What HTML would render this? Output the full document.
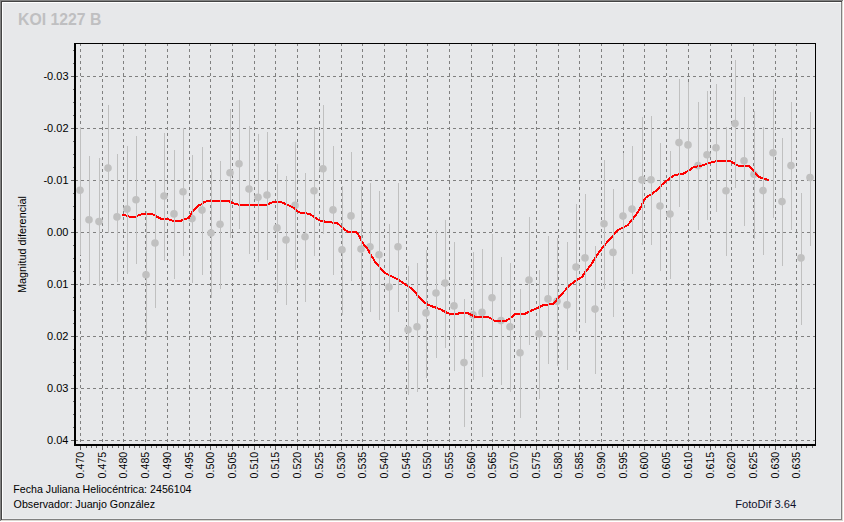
<!DOCTYPE html>
<html><head><meta charset="utf-8"><title>KOI 1227 B</title>
<style>
html,body{margin:0;padding:0;background:#fff;}
body{width:844px;height:522px;overflow:hidden;position:relative;font-family:"Liberation Sans",sans-serif;}
svg{position:absolute;left:0;top:0;display:block;}
text{font-family:"Liberation Sans",sans-serif;}
</style></head><body>
<svg width="844" height="522" viewBox="0 0 844 522">

<g shape-rendering="crispEdges">
<rect x="0" y="0" width="844" height="522" fill="#ffffff"/>
<rect x="0" y="0" width="843" height="521" fill="#dedad2"/>
<rect x="0" y="0" width="843" height="521" fill="#838383"/>
<rect x="842" y="1" width="1" height="520" fill="#dcd9d2"/>
<rect x="1" y="520" width="842" height="1" fill="#d9d6cf"/>
<rect x="1" y="1" width="841" height="519" fill="#444444"/>
<rect x="2" y="2" width="840" height="518" fill="#808080"/>
<rect x="2" y="2" width="839" height="517" fill="#ffffff"/>
<rect x="3" y="3" width="838" height="516" fill="#ecedef"/>
<rect x="3" y="3" width="837" height="515" fill="#e7e8ea"/>
</g>
<g shape-rendering="crispEdges" stroke="#808080" stroke-width="1" fill="none">
<line x1="80.5" y1="43" x2="80.5" y2="444" stroke-dasharray="3 3"/>
<line x1="102.5" y1="43" x2="102.5" y2="444" stroke-dasharray="3 3"/>
<line x1="123.5" y1="43" x2="123.5" y2="444" stroke-dasharray="3 3"/>
<line x1="145.5" y1="43" x2="145.5" y2="444" stroke-dasharray="3 3"/>
<line x1="167.5" y1="43" x2="167.5" y2="444" stroke-dasharray="3 3"/>
<line x1="189.5" y1="43" x2="189.5" y2="444" stroke-dasharray="3 3"/>
<line x1="210.5" y1="43" x2="210.5" y2="444" stroke-dasharray="3 3"/>
<line x1="232.5" y1="43" x2="232.5" y2="444" stroke-dasharray="3 3"/>
<line x1="254.5" y1="43" x2="254.5" y2="444" stroke-dasharray="3 3"/>
<line x1="275.5" y1="43" x2="275.5" y2="444" stroke-dasharray="3 3"/>
<line x1="297.5" y1="43" x2="297.5" y2="444" stroke-dasharray="3 3"/>
<line x1="319.5" y1="43" x2="319.5" y2="444" stroke-dasharray="3 3"/>
<line x1="341.5" y1="43" x2="341.5" y2="444" stroke-dasharray="3 3"/>
<line x1="362.5" y1="43" x2="362.5" y2="444" stroke-dasharray="3 3"/>
<line x1="384.5" y1="43" x2="384.5" y2="444" stroke-dasharray="3 3"/>
<line x1="406.5" y1="43" x2="406.5" y2="444" stroke-dasharray="3 3"/>
<line x1="427.5" y1="43" x2="427.5" y2="444" stroke-dasharray="3 3"/>
<line x1="449.5" y1="43" x2="449.5" y2="444" stroke-dasharray="3 3"/>
<line x1="471.5" y1="43" x2="471.5" y2="444" stroke-dasharray="3 3"/>
<line x1="492.5" y1="43" x2="492.5" y2="444" stroke-dasharray="3 3"/>
<line x1="514.5" y1="43" x2="514.5" y2="444" stroke-dasharray="3 3"/>
<line x1="536.5" y1="43" x2="536.5" y2="444" stroke-dasharray="3 3"/>
<line x1="558.5" y1="43" x2="558.5" y2="444" stroke-dasharray="3 3"/>
<line x1="579.5" y1="43" x2="579.5" y2="444" stroke-dasharray="3 3"/>
<line x1="601.5" y1="43" x2="601.5" y2="444" stroke-dasharray="3 3"/>
<line x1="623.5" y1="43" x2="623.5" y2="444" stroke-dasharray="3 3"/>
<line x1="644.5" y1="43" x2="644.5" y2="444" stroke-dasharray="3 3"/>
<line x1="666.5" y1="43" x2="666.5" y2="444" stroke-dasharray="3 3"/>
<line x1="688.5" y1="43" x2="688.5" y2="444" stroke-dasharray="3 3"/>
<line x1="710.5" y1="43" x2="710.5" y2="444" stroke-dasharray="3 3"/>
<line x1="731.5" y1="43" x2="731.5" y2="444" stroke-dasharray="3 3"/>
<line x1="753.5" y1="43" x2="753.5" y2="444" stroke-dasharray="3 3"/>
<line x1="775.5" y1="43" x2="775.5" y2="444" stroke-dasharray="3 3"/>
<line x1="796.5" y1="43" x2="796.5" y2="444" stroke-dasharray="3 3"/>
<line x1="75" y1="76.5" x2="815" y2="76.5" stroke-dasharray="3 3"/>
<line x1="75" y1="128.5" x2="815" y2="128.5" stroke-dasharray="3 3"/>
<line x1="75" y1="180.5" x2="815" y2="180.5" stroke-dasharray="3 3"/>
<line x1="75" y1="232.5" x2="815" y2="232.5" stroke-dasharray="3 3"/>
<line x1="75" y1="284.5" x2="815" y2="284.5" stroke-dasharray="3 3"/>
<line x1="75" y1="336.5" x2="815" y2="336.5" stroke-dasharray="3 3"/>
<line x1="75" y1="388.5" x2="815" y2="388.5" stroke-dasharray="3 3"/>
<line x1="75" y1="440.5" x2="815" y2="440.5" stroke-dasharray="3 3"/>
</g>
<g fill="#c0c0c0">
<circle cx="80.0" cy="190.2" r="3.8"/>
<circle cx="89.0" cy="219.8" r="3.8"/>
<circle cx="99.0" cy="221.6" r="3.8"/>
<circle cx="108.0" cy="168.1" r="3.8"/>
<circle cx="117.0" cy="216.9" r="3.8"/>
<circle cx="127.0" cy="209.1" r="3.8"/>
<circle cx="136.0" cy="199.7" r="3.8"/>
<circle cx="146.0" cy="274.8" r="3.8"/>
<circle cx="155.0" cy="243.0" r="3.8"/>
<circle cx="164.0" cy="196.0" r="3.8"/>
<circle cx="174.0" cy="213.9" r="3.8"/>
<circle cx="183.0" cy="191.7" r="3.8"/>
<circle cx="192.0" cy="218.6" r="3.8"/>
<circle cx="202.0" cy="210.1" r="3.8"/>
<circle cx="211.0" cy="233.0" r="3.8"/>
<circle cx="220.0" cy="224.3" r="3.8"/>
<circle cx="230.0" cy="172.8" r="3.8"/>
<circle cx="239.0" cy="163.8" r="3.8"/>
<circle cx="249.0" cy="189.0" r="3.8"/>
<circle cx="258.0" cy="197.2" r="3.8"/>
<circle cx="267.0" cy="195.0" r="3.8"/>
<circle cx="277.0" cy="227.9" r="3.8"/>
<circle cx="286.0" cy="239.9" r="3.8"/>
<circle cx="295.0" cy="205.4" r="3.8"/>
<circle cx="305.0" cy="236.8" r="3.8"/>
<circle cx="314.0" cy="190.7" r="3.8"/>
<circle cx="323.0" cy="168.8" r="3.8"/>
<circle cx="333.0" cy="209.9" r="3.8"/>
<circle cx="342.0" cy="249.8" r="3.8"/>
<circle cx="351.0" cy="215.9" r="3.8"/>
<circle cx="361.0" cy="249.0" r="3.8"/>
<circle cx="370.0" cy="246.8" r="3.8"/>
<circle cx="379.0" cy="254.7" r="3.8"/>
<circle cx="389.0" cy="287.0" r="3.8"/>
<circle cx="398.0" cy="246.8" r="3.8"/>
<circle cx="408.0" cy="329.8" r="3.8"/>
<circle cx="417.0" cy="326.8" r="3.8"/>
<circle cx="426.0" cy="312.9" r="3.8"/>
<circle cx="436.0" cy="293.0" r="3.8"/>
<circle cx="445.0" cy="283.1" r="3.8"/>
<circle cx="454.0" cy="305.9" r="3.8"/>
<circle cx="464.0" cy="362.6" r="3.8"/>
<circle cx="473.0" cy="314.9" r="3.8"/>
<circle cx="482.0" cy="312.4" r="3.8"/>
<circle cx="492.0" cy="297.7" r="3.8"/>
<circle cx="501.0" cy="320.6" r="3.8"/>
<circle cx="510.0" cy="326.8" r="3.8"/>
<circle cx="520.0" cy="352.7" r="3.8"/>
<circle cx="529.0" cy="280.0" r="3.8"/>
<circle cx="539.0" cy="333.8" r="3.8"/>
<circle cx="548.0" cy="298.9" r="3.8"/>
<circle cx="557.0" cy="301.2" r="3.8"/>
<circle cx="567.0" cy="304.9" r="3.8"/>
<circle cx="576.0" cy="267.0" r="3.8"/>
<circle cx="585.0" cy="257.9" r="3.8"/>
<circle cx="595.0" cy="309.1" r="3.8"/>
<circle cx="604.0" cy="223.8" r="3.8"/>
<circle cx="613.0" cy="252.4" r="3.8"/>
<circle cx="623.0" cy="216.1" r="3.8"/>
<circle cx="632.0" cy="209.1" r="3.8"/>
<circle cx="642.0" cy="179.9" r="3.8"/>
<circle cx="651.0" cy="179.8" r="3.8"/>
<circle cx="660.0" cy="206.0" r="3.8"/>
<circle cx="670.0" cy="214.0" r="3.8"/>
<circle cx="679.0" cy="142.6" r="3.8"/>
<circle cx="688.0" cy="144.9" r="3.8"/>
<circle cx="698.0" cy="165.6" r="3.8"/>
<circle cx="707.0" cy="154.7" r="3.8"/>
<circle cx="716.0" cy="147.7" r="3.8"/>
<circle cx="726.0" cy="190.8" r="3.8"/>
<circle cx="735.0" cy="123.6" r="3.8"/>
<circle cx="744.0" cy="160.7" r="3.8"/>
<circle cx="754.0" cy="174.3" r="3.8"/>
<circle cx="763.0" cy="190.6" r="3.8"/>
<circle cx="773.0" cy="152.8" r="3.8"/>
<circle cx="782.0" cy="201.6" r="3.8"/>
<circle cx="791.0" cy="165.6" r="3.8"/>
<circle cx="801.0" cy="257.9" r="3.8"/>
<circle cx="810.0" cy="177.5" r="3.8"/>
</g>
<polyline points="122.1,214.9 126.1,215.5 129.8,216.8 135.4,216.8 138.5,215.3 142.9,214.0 152.2,214.0 155.9,216.1 160.9,218.6 167.2,218.9 173.4,220.9 180.0,221.1 185.0,219.2 188.7,218.0 190.6,214.9 192.5,211.7 195.0,208.6 198.7,205.5 201.8,204.3 204.3,202.1 208.0,200.9 228.0,200.9 231.0,202.2 234.8,203.9 239.8,204.9 266.0,204.9 269.7,203.4 273.4,201.8 280.0,201.8 285.0,203.7 290.0,205.9 294.9,208.7 298.7,212.2 302.4,213.0 309.3,213.7 313.0,216.2 317.4,219.3 319.9,220.5 327.3,222.1 337.3,223.0 341.0,226.4 344.8,229.6 347.9,231.7 356.0,231.7 359.7,236.7 362.2,242.3 367.2,248.5 370.9,254.8 374.7,261.2 380.0,267.5 385.0,273.1 391.2,276.2 397.5,279.3 403.7,283.4 409.9,287.4 414.9,291.8 418.6,296.8 423.6,301.7 428.6,305.1 434.8,307.3 441.0,309.6 446.0,312.3 449.8,313.8 457.2,313.8 461.0,312.9 467.2,312.9 470.9,314.8 474.7,316.7 487.0,317.0 490.0,317.9 493.7,320.4 497.5,321.0 505.6,321.0 509.9,318.5 514.9,314.2 524.9,313.8 529.9,311.3 537.3,308.0 543.5,305.1 553.5,303.9 557.2,299.2 562.2,293.6 567.2,288.0 571.0,284.3 575.9,280.6 582.2,276.8 585.9,271.2 590.9,265.0 596.0,256.5 602.0,248.3 608.0,241.2 614.3,234.1 618.6,229.8 627.4,225.4 632.3,219.8 637.3,213.0 641.1,206.7 643.5,201.1 646.0,197.4 652.3,193.7 658.5,188.7 662.2,184.3 668.5,179.3 673.4,175.6 677.2,174.7 683.4,173.7 688.4,170.6 690.0,169.9 693.7,167.1 700.0,166.1 706.2,164.2 712.4,162.1 717.4,160.9 729.9,160.9 733.6,163.0 738.6,165.9 748.5,165.9 752.3,169.2 756.0,173.8 759.7,177.3 764.7,178.8 769.0,180.1" fill="none" stroke="#fd0000" stroke-width="2" stroke-linejoin="bevel" stroke-linecap="butt" shape-rendering="crispEdges"/>
<g shape-rendering="crispEdges" stroke="#c0c0c0" stroke-width="1">
<line x1="80.5" y1="127" x2="80.5" y2="255"/>
<line x1="89.5" y1="156" x2="89.5" y2="285"/>
<line x1="99.5" y1="158" x2="99.5" y2="286"/>
<line x1="108.5" y1="105" x2="108.5" y2="233"/>
<line x1="117.5" y1="154" x2="117.5" y2="282"/>
<line x1="127.5" y1="146" x2="127.5" y2="274"/>
<line x1="136.5" y1="136" x2="136.5" y2="264"/>
<line x1="146.5" y1="211" x2="146.5" y2="340"/>
<line x1="155.5" y1="180" x2="155.5" y2="308"/>
<line x1="164.5" y1="133" x2="164.5" y2="261"/>
<line x1="174.5" y1="150" x2="174.5" y2="279"/>
<line x1="183.5" y1="128" x2="183.5" y2="256"/>
<line x1="192.5" y1="155" x2="192.5" y2="283"/>
<line x1="202.5" y1="147" x2="202.5" y2="275"/>
<line x1="211.5" y1="170" x2="211.5" y2="298"/>
<line x1="220.5" y1="161" x2="220.5" y2="289"/>
<line x1="230.5" y1="109" x2="230.5" y2="238"/>
<line x1="239.5" y1="100" x2="239.5" y2="229"/>
<line x1="249.5" y1="126" x2="249.5" y2="254"/>
<line x1="258.5" y1="134" x2="258.5" y2="262"/>
<line x1="267.5" y1="132" x2="267.5" y2="260"/>
<line x1="277.5" y1="164" x2="277.5" y2="293"/>
<line x1="286.5" y1="176" x2="286.5" y2="305"/>
<line x1="295.5" y1="142" x2="295.5" y2="270"/>
<line x1="305.5" y1="173" x2="305.5" y2="302"/>
<line x1="314.5" y1="127" x2="314.5" y2="256"/>
<line x1="323.5" y1="105" x2="323.5" y2="234"/>
<line x1="333.5" y1="146" x2="333.5" y2="275"/>
<line x1="342.5" y1="186" x2="342.5" y2="315"/>
<line x1="351.5" y1="152" x2="351.5" y2="281"/>
<line x1="361.5" y1="186" x2="361.5" y2="314"/>
<line x1="370.5" y1="183" x2="370.5" y2="312"/>
<line x1="379.5" y1="191" x2="379.5" y2="320"/>
<line x1="389.5" y1="224" x2="389.5" y2="352"/>
<line x1="398.5" y1="183" x2="398.5" y2="312"/>
<line x1="408.5" y1="266" x2="408.5" y2="395"/>
<line x1="417.5" y1="263" x2="417.5" y2="392"/>
<line x1="426.5" y1="250" x2="426.5" y2="378"/>
<line x1="436.5" y1="230" x2="436.5" y2="358"/>
<line x1="445.5" y1="220" x2="445.5" y2="348"/>
<line x1="454.5" y1="242" x2="454.5" y2="371"/>
<line x1="464.5" y1="299" x2="464.5" y2="427"/>
<line x1="473.5" y1="252" x2="473.5" y2="380"/>
<line x1="482.5" y1="249" x2="482.5" y2="377"/>
<line x1="492.5" y1="234" x2="492.5" y2="362"/>
<line x1="501.5" y1="257" x2="501.5" y2="385"/>
<line x1="510.5" y1="263" x2="510.5" y2="392"/>
<line x1="520.5" y1="289" x2="520.5" y2="418"/>
<line x1="529.5" y1="217" x2="529.5" y2="345"/>
<line x1="539.5" y1="270" x2="539.5" y2="399"/>
<line x1="548.5" y1="236" x2="548.5" y2="364"/>
<line x1="557.5" y1="238" x2="557.5" y2="366"/>
<line x1="567.5" y1="242" x2="567.5" y2="370"/>
<line x1="576.5" y1="204" x2="576.5" y2="332"/>
<line x1="585.5" y1="194" x2="585.5" y2="323"/>
<line x1="595.5" y1="246" x2="595.5" y2="374"/>
<line x1="604.5" y1="160" x2="604.5" y2="289"/>
<line x1="613.5" y1="189" x2="613.5" y2="317"/>
<line x1="623.5" y1="153" x2="623.5" y2="281"/>
<line x1="632.5" y1="146" x2="632.5" y2="274"/>
<line x1="642.5" y1="117" x2="642.5" y2="245"/>
<line x1="651.5" y1="116" x2="651.5" y2="245"/>
<line x1="660.5" y1="143" x2="660.5" y2="271"/>
<line x1="670.5" y1="151" x2="670.5" y2="279"/>
<line x1="679.5" y1="79" x2="679.5" y2="207"/>
<line x1="688.5" y1="82" x2="688.5" y2="210"/>
<line x1="698.5" y1="102" x2="698.5" y2="230"/>
<line x1="707.5" y1="91" x2="707.5" y2="220"/>
<line x1="716.5" y1="84" x2="716.5" y2="212"/>
<line x1="726.5" y1="127" x2="726.5" y2="256"/>
<line x1="735.5" y1="60" x2="735.5" y2="188"/>
<line x1="744.5" y1="97" x2="744.5" y2="226"/>
<line x1="754.5" y1="111" x2="754.5" y2="239"/>
<line x1="763.5" y1="127" x2="763.5" y2="255"/>
<line x1="773.5" y1="89" x2="773.5" y2="218"/>
<line x1="782.5" y1="138" x2="782.5" y2="266"/>
<line x1="791.5" y1="102" x2="791.5" y2="230"/>
<line x1="801.5" y1="193" x2="801.5" y2="325"/>
<line x1="810.5" y1="112" x2="810.5" y2="246"/>
</g>
<g shape-rendering="crispEdges">
<rect x="74" y="43" width="742" height="1" fill="#000"/>
<rect x="815" y="43" width="1" height="403" fill="#000"/>
<rect x="74" y="43" width="2" height="403" fill="#000"/>
<rect x="74" y="444" width="742" height="2" fill="#000"/>
<rect x="71" y="76" width="3" height="1" fill="#606060"/>
<rect x="71" y="128" width="3" height="1" fill="#606060"/>
<rect x="71" y="180" width="3" height="1" fill="#606060"/>
<rect x="71" y="232" width="3" height="1" fill="#606060"/>
<rect x="71" y="284" width="3" height="1" fill="#606060"/>
<rect x="71" y="336" width="3" height="1" fill="#606060"/>
<rect x="71" y="388" width="3" height="1" fill="#606060"/>
<rect x="71" y="440" width="3" height="1" fill="#606060"/>
<rect x="73" y="50" width="1" height="1" fill="#707070"/>
<rect x="73" y="63" width="1" height="1" fill="#707070"/>
<rect x="73" y="89" width="1" height="1" fill="#707070"/>
<rect x="73" y="102" width="1" height="1" fill="#707070"/>
<rect x="73" y="115" width="1" height="1" fill="#707070"/>
<rect x="73" y="141" width="1" height="1" fill="#707070"/>
<rect x="73" y="154" width="1" height="1" fill="#707070"/>
<rect x="73" y="167" width="1" height="1" fill="#707070"/>
<rect x="73" y="193" width="1" height="1" fill="#707070"/>
<rect x="73" y="206" width="1" height="1" fill="#707070"/>
<rect x="73" y="219" width="1" height="1" fill="#707070"/>
<rect x="73" y="245" width="1" height="1" fill="#707070"/>
<rect x="73" y="258" width="1" height="1" fill="#707070"/>
<rect x="73" y="271" width="1" height="1" fill="#707070"/>
<rect x="73" y="297" width="1" height="1" fill="#707070"/>
<rect x="73" y="310" width="1" height="1" fill="#707070"/>
<rect x="73" y="323" width="1" height="1" fill="#707070"/>
<rect x="73" y="349" width="1" height="1" fill="#707070"/>
<rect x="73" y="362" width="1" height="1" fill="#707070"/>
<rect x="73" y="375" width="1" height="1" fill="#707070"/>
<rect x="73" y="401" width="1" height="1" fill="#707070"/>
<rect x="73" y="414" width="1" height="1" fill="#707070"/>
<rect x="73" y="427" width="1" height="1" fill="#707070"/>
<rect x="80" y="446" width="1" height="4" fill="#606060"/>
<rect x="86" y="446" width="1" height="2" fill="#707070"/>
<rect x="91" y="446" width="1" height="2" fill="#707070"/>
<rect x="96" y="446" width="1" height="2" fill="#707070"/>
<rect x="102" y="446" width="1" height="4" fill="#606060"/>
<rect x="107" y="446" width="1" height="2" fill="#707070"/>
<rect x="112" y="446" width="1" height="2" fill="#707070"/>
<rect x="118" y="446" width="1" height="2" fill="#707070"/>
<rect x="123" y="446" width="1" height="4" fill="#606060"/>
<rect x="129" y="446" width="1" height="2" fill="#707070"/>
<rect x="134" y="446" width="1" height="2" fill="#707070"/>
<rect x="139" y="446" width="1" height="2" fill="#707070"/>
<rect x="145" y="446" width="1" height="4" fill="#606060"/>
<rect x="151" y="446" width="1" height="2" fill="#707070"/>
<rect x="156" y="446" width="1" height="2" fill="#707070"/>
<rect x="161" y="446" width="1" height="2" fill="#707070"/>
<rect x="167" y="446" width="1" height="4" fill="#606060"/>
<rect x="173" y="446" width="1" height="2" fill="#707070"/>
<rect x="178" y="446" width="1" height="2" fill="#707070"/>
<rect x="183" y="446" width="1" height="2" fill="#707070"/>
<rect x="189" y="446" width="1" height="4" fill="#606060"/>
<rect x="194" y="446" width="1" height="2" fill="#707070"/>
<rect x="199" y="446" width="1" height="2" fill="#707070"/>
<rect x="205" y="446" width="1" height="2" fill="#707070"/>
<rect x="210" y="446" width="1" height="4" fill="#606060"/>
<rect x="216" y="446" width="1" height="2" fill="#707070"/>
<rect x="221" y="446" width="1" height="2" fill="#707070"/>
<rect x="226" y="446" width="1" height="2" fill="#707070"/>
<rect x="232" y="446" width="1" height="4" fill="#606060"/>
<rect x="238" y="446" width="1" height="2" fill="#707070"/>
<rect x="243" y="446" width="1" height="2" fill="#707070"/>
<rect x="248" y="446" width="1" height="2" fill="#707070"/>
<rect x="254" y="446" width="1" height="4" fill="#606060"/>
<rect x="259" y="446" width="1" height="2" fill="#707070"/>
<rect x="264" y="446" width="1" height="2" fill="#707070"/>
<rect x="270" y="446" width="1" height="2" fill="#707070"/>
<rect x="275" y="446" width="1" height="4" fill="#606060"/>
<rect x="281" y="446" width="1" height="2" fill="#707070"/>
<rect x="286" y="446" width="1" height="2" fill="#707070"/>
<rect x="291" y="446" width="1" height="2" fill="#707070"/>
<rect x="297" y="446" width="1" height="4" fill="#606060"/>
<rect x="303" y="446" width="1" height="2" fill="#707070"/>
<rect x="308" y="446" width="1" height="2" fill="#707070"/>
<rect x="313" y="446" width="1" height="2" fill="#707070"/>
<rect x="319" y="446" width="1" height="4" fill="#606060"/>
<rect x="325" y="446" width="1" height="2" fill="#707070"/>
<rect x="330" y="446" width="1" height="2" fill="#707070"/>
<rect x="335" y="446" width="1" height="2" fill="#707070"/>
<rect x="341" y="446" width="1" height="4" fill="#606060"/>
<rect x="346" y="446" width="1" height="2" fill="#707070"/>
<rect x="351" y="446" width="1" height="2" fill="#707070"/>
<rect x="357" y="446" width="1" height="2" fill="#707070"/>
<rect x="362" y="446" width="1" height="4" fill="#606060"/>
<rect x="368" y="446" width="1" height="2" fill="#707070"/>
<rect x="373" y="446" width="1" height="2" fill="#707070"/>
<rect x="378" y="446" width="1" height="2" fill="#707070"/>
<rect x="384" y="446" width="1" height="4" fill="#606060"/>
<rect x="390" y="446" width="1" height="2" fill="#707070"/>
<rect x="395" y="446" width="1" height="2" fill="#707070"/>
<rect x="400" y="446" width="1" height="2" fill="#707070"/>
<rect x="406" y="446" width="1" height="4" fill="#606060"/>
<rect x="411" y="446" width="1" height="2" fill="#707070"/>
<rect x="416" y="446" width="1" height="2" fill="#707070"/>
<rect x="422" y="446" width="1" height="2" fill="#707070"/>
<rect x="427" y="446" width="1" height="4" fill="#606060"/>
<rect x="433" y="446" width="1" height="2" fill="#707070"/>
<rect x="438" y="446" width="1" height="2" fill="#707070"/>
<rect x="443" y="446" width="1" height="2" fill="#707070"/>
<rect x="449" y="446" width="1" height="4" fill="#606060"/>
<rect x="455" y="446" width="1" height="2" fill="#707070"/>
<rect x="460" y="446" width="1" height="2" fill="#707070"/>
<rect x="465" y="446" width="1" height="2" fill="#707070"/>
<rect x="471" y="446" width="1" height="4" fill="#606060"/>
<rect x="476" y="446" width="1" height="2" fill="#707070"/>
<rect x="481" y="446" width="1" height="2" fill="#707070"/>
<rect x="487" y="446" width="1" height="2" fill="#707070"/>
<rect x="492" y="446" width="1" height="4" fill="#606060"/>
<rect x="498" y="446" width="1" height="2" fill="#707070"/>
<rect x="503" y="446" width="1" height="2" fill="#707070"/>
<rect x="508" y="446" width="1" height="2" fill="#707070"/>
<rect x="514" y="446" width="1" height="4" fill="#606060"/>
<rect x="520" y="446" width="1" height="2" fill="#707070"/>
<rect x="525" y="446" width="1" height="2" fill="#707070"/>
<rect x="530" y="446" width="1" height="2" fill="#707070"/>
<rect x="536" y="446" width="1" height="4" fill="#606060"/>
<rect x="542" y="446" width="1" height="2" fill="#707070"/>
<rect x="547" y="446" width="1" height="2" fill="#707070"/>
<rect x="552" y="446" width="1" height="2" fill="#707070"/>
<rect x="558" y="446" width="1" height="4" fill="#606060"/>
<rect x="563" y="446" width="1" height="2" fill="#707070"/>
<rect x="568" y="446" width="1" height="2" fill="#707070"/>
<rect x="574" y="446" width="1" height="2" fill="#707070"/>
<rect x="579" y="446" width="1" height="4" fill="#606060"/>
<rect x="585" y="446" width="1" height="2" fill="#707070"/>
<rect x="590" y="446" width="1" height="2" fill="#707070"/>
<rect x="595" y="446" width="1" height="2" fill="#707070"/>
<rect x="601" y="446" width="1" height="4" fill="#606060"/>
<rect x="607" y="446" width="1" height="2" fill="#707070"/>
<rect x="612" y="446" width="1" height="2" fill="#707070"/>
<rect x="617" y="446" width="1" height="2" fill="#707070"/>
<rect x="623" y="446" width="1" height="4" fill="#606060"/>
<rect x="628" y="446" width="1" height="2" fill="#707070"/>
<rect x="633" y="446" width="1" height="2" fill="#707070"/>
<rect x="639" y="446" width="1" height="2" fill="#707070"/>
<rect x="644" y="446" width="1" height="4" fill="#606060"/>
<rect x="650" y="446" width="1" height="2" fill="#707070"/>
<rect x="655" y="446" width="1" height="2" fill="#707070"/>
<rect x="660" y="446" width="1" height="2" fill="#707070"/>
<rect x="666" y="446" width="1" height="4" fill="#606060"/>
<rect x="672" y="446" width="1" height="2" fill="#707070"/>
<rect x="677" y="446" width="1" height="2" fill="#707070"/>
<rect x="682" y="446" width="1" height="2" fill="#707070"/>
<rect x="688" y="446" width="1" height="4" fill="#606060"/>
<rect x="694" y="446" width="1" height="2" fill="#707070"/>
<rect x="699" y="446" width="1" height="2" fill="#707070"/>
<rect x="704" y="446" width="1" height="2" fill="#707070"/>
<rect x="710" y="446" width="1" height="4" fill="#606060"/>
<rect x="715" y="446" width="1" height="2" fill="#707070"/>
<rect x="720" y="446" width="1" height="2" fill="#707070"/>
<rect x="726" y="446" width="1" height="2" fill="#707070"/>
<rect x="731" y="446" width="1" height="4" fill="#606060"/>
<rect x="737" y="446" width="1" height="2" fill="#707070"/>
<rect x="742" y="446" width="1" height="2" fill="#707070"/>
<rect x="747" y="446" width="1" height="2" fill="#707070"/>
<rect x="753" y="446" width="1" height="4" fill="#606060"/>
<rect x="759" y="446" width="1" height="2" fill="#707070"/>
<rect x="764" y="446" width="1" height="2" fill="#707070"/>
<rect x="769" y="446" width="1" height="2" fill="#707070"/>
<rect x="775" y="446" width="1" height="4" fill="#606060"/>
<rect x="780" y="446" width="1" height="2" fill="#707070"/>
<rect x="785" y="446" width="1" height="2" fill="#707070"/>
<rect x="791" y="446" width="1" height="2" fill="#707070"/>
<rect x="796" y="446" width="1" height="4" fill="#606060"/>
<rect x="801" y="446" width="1" height="2" fill="#707070"/>
<rect x="806" y="446" width="1" height="2" fill="#707070"/>
<rect x="812" y="446" width="1" height="2" fill="#707070"/>
</g>
<g font-size="11" fill="#000">
<text x="68.5" y="80" text-anchor="end">-0.03</text>
<text x="68.5" y="132" text-anchor="end">-0.02</text>
<text x="68.5" y="184" text-anchor="end">-0.01</text>
<text x="68.5" y="236" text-anchor="end">0.00</text>
<text x="68.5" y="288" text-anchor="end">0.01</text>
<text x="68.5" y="340" text-anchor="end">0.02</text>
<text x="68.5" y="392" text-anchor="end">0.03</text>
<text x="68.5" y="444" text-anchor="end">0.04</text>
<text transform="translate(84,451.8) rotate(-90)" text-anchor="end" textLength="26.6" lengthAdjust="spacingAndGlyphs">0.470</text>
<text transform="translate(106,451.8) rotate(-90)" text-anchor="end" textLength="26.6" lengthAdjust="spacingAndGlyphs">0.475</text>
<text transform="translate(127,451.8) rotate(-90)" text-anchor="end" textLength="26.6" lengthAdjust="spacingAndGlyphs">0.480</text>
<text transform="translate(149,451.8) rotate(-90)" text-anchor="end" textLength="26.6" lengthAdjust="spacingAndGlyphs">0.485</text>
<text transform="translate(171,451.8) rotate(-90)" text-anchor="end" textLength="26.6" lengthAdjust="spacingAndGlyphs">0.490</text>
<text transform="translate(193,451.8) rotate(-90)" text-anchor="end" textLength="26.6" lengthAdjust="spacingAndGlyphs">0.495</text>
<text transform="translate(214,451.8) rotate(-90)" text-anchor="end" textLength="26.6" lengthAdjust="spacingAndGlyphs">0.500</text>
<text transform="translate(236,451.8) rotate(-90)" text-anchor="end" textLength="26.6" lengthAdjust="spacingAndGlyphs">0.505</text>
<text transform="translate(258,451.8) rotate(-90)" text-anchor="end" textLength="26.6" lengthAdjust="spacingAndGlyphs">0.510</text>
<text transform="translate(279,451.8) rotate(-90)" text-anchor="end" textLength="26.6" lengthAdjust="spacingAndGlyphs">0.515</text>
<text transform="translate(301,451.8) rotate(-90)" text-anchor="end" textLength="26.6" lengthAdjust="spacingAndGlyphs">0.520</text>
<text transform="translate(323,451.8) rotate(-90)" text-anchor="end" textLength="26.6" lengthAdjust="spacingAndGlyphs">0.525</text>
<text transform="translate(345,451.8) rotate(-90)" text-anchor="end" textLength="26.6" lengthAdjust="spacingAndGlyphs">0.530</text>
<text transform="translate(366,451.8) rotate(-90)" text-anchor="end" textLength="26.6" lengthAdjust="spacingAndGlyphs">0.535</text>
<text transform="translate(388,451.8) rotate(-90)" text-anchor="end" textLength="26.6" lengthAdjust="spacingAndGlyphs">0.540</text>
<text transform="translate(410,451.8) rotate(-90)" text-anchor="end" textLength="26.6" lengthAdjust="spacingAndGlyphs">0.545</text>
<text transform="translate(431,451.8) rotate(-90)" text-anchor="end" textLength="26.6" lengthAdjust="spacingAndGlyphs">0.550</text>
<text transform="translate(453,451.8) rotate(-90)" text-anchor="end" textLength="26.6" lengthAdjust="spacingAndGlyphs">0.555</text>
<text transform="translate(475,451.8) rotate(-90)" text-anchor="end" textLength="26.6" lengthAdjust="spacingAndGlyphs">0.560</text>
<text transform="translate(496,451.8) rotate(-90)" text-anchor="end" textLength="26.6" lengthAdjust="spacingAndGlyphs">0.565</text>
<text transform="translate(518,451.8) rotate(-90)" text-anchor="end" textLength="26.6" lengthAdjust="spacingAndGlyphs">0.570</text>
<text transform="translate(540,451.8) rotate(-90)" text-anchor="end" textLength="26.6" lengthAdjust="spacingAndGlyphs">0.575</text>
<text transform="translate(562,451.8) rotate(-90)" text-anchor="end" textLength="26.6" lengthAdjust="spacingAndGlyphs">0.580</text>
<text transform="translate(583,451.8) rotate(-90)" text-anchor="end" textLength="26.6" lengthAdjust="spacingAndGlyphs">0.585</text>
<text transform="translate(605,451.8) rotate(-90)" text-anchor="end" textLength="26.6" lengthAdjust="spacingAndGlyphs">0.590</text>
<text transform="translate(627,451.8) rotate(-90)" text-anchor="end" textLength="26.6" lengthAdjust="spacingAndGlyphs">0.595</text>
<text transform="translate(648,451.8) rotate(-90)" text-anchor="end" textLength="26.6" lengthAdjust="spacingAndGlyphs">0.600</text>
<text transform="translate(670,451.8) rotate(-90)" text-anchor="end" textLength="26.6" lengthAdjust="spacingAndGlyphs">0.605</text>
<text transform="translate(692,451.8) rotate(-90)" text-anchor="end" textLength="26.6" lengthAdjust="spacingAndGlyphs">0.610</text>
<text transform="translate(714,451.8) rotate(-90)" text-anchor="end" textLength="26.6" lengthAdjust="spacingAndGlyphs">0.615</text>
<text transform="translate(735,451.8) rotate(-90)" text-anchor="end" textLength="26.6" lengthAdjust="spacingAndGlyphs">0.620</text>
<text transform="translate(757,451.8) rotate(-90)" text-anchor="end" textLength="26.6" lengthAdjust="spacingAndGlyphs">0.625</text>
<text transform="translate(779,451.8) rotate(-90)" text-anchor="end" textLength="26.6" lengthAdjust="spacingAndGlyphs">0.630</text>
<text transform="translate(800,451.8) rotate(-90)" text-anchor="end" textLength="26.6" lengthAdjust="spacingAndGlyphs">0.635</text>
<text transform="translate(26,293) rotate(-90)" text-anchor="start" textLength="96.9" lengthAdjust="spacingAndGlyphs">Magnitud diferencial</text>
<text x="13.3" y="493" textLength="178.2" lengthAdjust="spacingAndGlyphs">Fecha Juliana Heliocéntrica: 2456104</text>
<text x="13.6" y="508" textLength="141.4" lengthAdjust="spacingAndGlyphs">Observador: Juanjo González</text>
<text x="735.2" y="508" fill="#10102c" textLength="61" lengthAdjust="spacingAndGlyphs">FotoDif 3.64</text>
</g>
<text x="18" y="25" font-size="16" font-weight="bold" fill="#bfbfc1" textLength="83.3" lengthAdjust="spacingAndGlyphs">KOI 1227 B</text>
</svg></body></html>
